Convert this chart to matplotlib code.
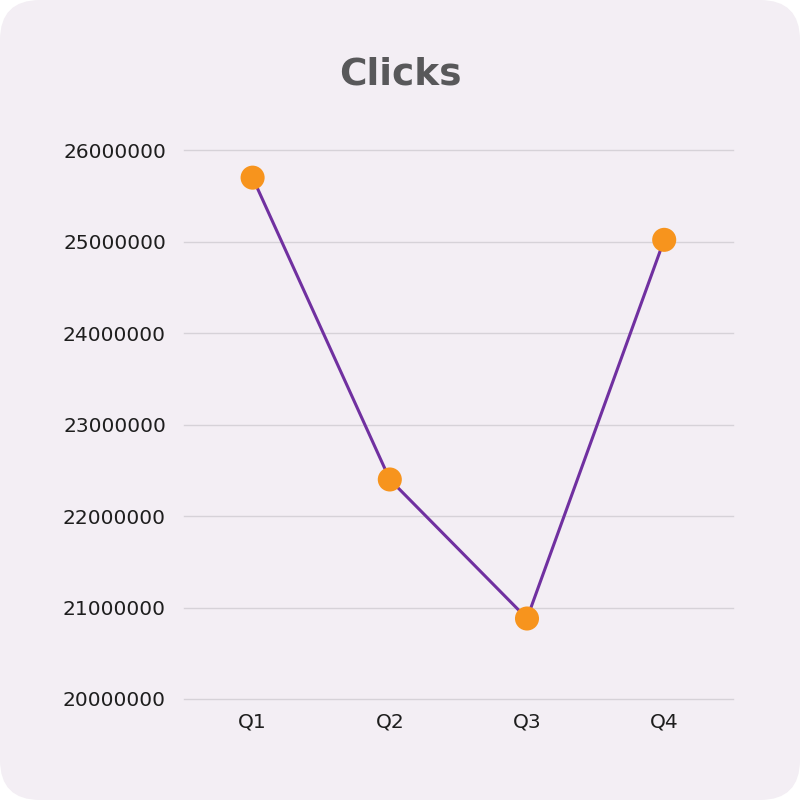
import matplotlib.pyplot as plt
from matplotlib.patches import FancyBboxPatch

quarters = ["Q1", "Q2", "Q3", "Q4"]
clicks = [25700000, 22400000, 20880000, 25020000]
yticks = [20000000, 21000000, 22000000, 23000000, 24000000, 25000000, 26000000]

plt.rcParams['font.family'] = ['DejaVu Sans']

fig = plt.figure(figsize=(8, 8), dpi=100, facecolor="white")

# rounded card background
card = FancyBboxPatch((0, 0), 1, 1, boxstyle="round,pad=0,rounding_size=0.05",
                      transform=fig.transFigure, facecolor="#f3eef4",
                      edgecolor="none", zorder=-10)
fig.patches.append(card)

ax = fig.add_axes([0.23, 0.12625, 0.686, 0.686])
ax.set_facecolor("none")

x = range(len(quarters))
ax.plot(x, clicks, color="#7030a0", linewidth=2.2, zorder=2)
ax.scatter(x, clicks, s=300, color="#f7941d", zorder=3, edgecolors="none")

ax.set_xlim(-0.5, 3.5)
ax.set_ylim(20000000, 26000000)
ax.set_yticks(yticks)
ax.set_yticklabels([str(v) for v in yticks])
ax.set_xticks(list(x))
ax.set_xticklabels(quarters)

ax.grid(axis="y", color="#d6d2d8", linewidth=1)
for gl in ax.get_ygridlines():
    gl.set_clip_on(False)
ax.set_axisbelow(True)
for s in ax.spines.values():
    s.set_visible(False)
ax.tick_params(length=0, labelsize=14.5, colors="#1e1e1e")
ax.tick_params(axis="y", pad=13)
ax.tick_params(axis="x", pad=10)

fig.text(0.5, 0.894, "Clicks", ha="center", va="baseline", fontsize=27,
         fontweight="bold", color="#58585a")

fig.savefig("out.png", dpi=100, facecolor="white")
